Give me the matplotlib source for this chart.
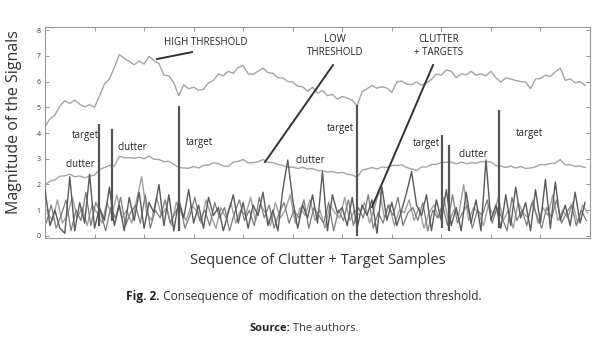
import numpy as np
import matplotlib.pyplot as plt

plt.rcParams['font.family'] = ['Open Sans', 'DejaVu Sans']

# ---- data --------------------------------------------------------------
STEP = 5
HIGH_THR = [4.25, 4.55, 4.7, 5.05, 5.25, 5.15, 5.28, 5.12, 5.02, 5.1,
            5.0, 5.45, 5.9, 6.1, 6.55, 7.05, 6.9, 6.78, 6.65, 6.8,
            6.68, 6.98, 6.82, 6.7, 6.25, 6.22, 5.95, 5.45, 5.88, 5.72,
            5.78, 5.66, 5.7, 5.95, 6.05, 6.3, 6.22, 6.4, 6.32, 6.55,
            6.62, 6.3, 6.28, 6.4, 6.52, 6.35, 6.32, 6.15, 6.14, 6.0,
            5.98, 5.82, 5.8, 5.62, 5.78, 5.55, 5.65, 5.45, 5.5, 5.32,
            5.42, 5.36, 5.28, 5.05, 5.6, 5.72, 5.85, 5.74, 5.8, 5.75,
            5.58, 5.98, 6.02, 5.9, 5.88, 5.98, 5.86, 5.94, 6.08, 6.3,
            6.25, 6.45, 6.4, 6.15, 6.3, 6.26, 6.4, 6.25, 6.3, 6.22,
            6.4, 6.15, 5.98, 6.14, 6.1, 6.04, 6.0, 5.98, 5.72, 6.1,
            6.12, 6.25, 6.2, 6.38, 6.52, 6.05, 6.1, 5.95, 6.0, 5.85]
LOW_THR = [2.0, 2.12, 2.18, 2.32, 2.34, 2.4, 2.3, 2.33, 2.26, 2.32,
           2.36, 2.58, 2.66, 2.74, 2.72, 3.1, 3.04, 3.04, 3.02, 3.06,
           3.0, 3.1, 2.98, 2.97, 2.88, 2.9, 2.78, 2.66, 2.64, 2.63,
           2.7, 2.64, 2.74, 2.76, 2.84, 2.81, 2.72, 2.7, 2.87, 2.9,
           2.97, 2.83, 2.85, 2.88, 2.97, 2.86, 2.85, 2.78, 2.74, 2.66,
           2.68, 2.62, 2.67, 2.6, 2.62, 2.54, 2.54, 2.48, 2.5, 2.45,
           2.47, 2.4, 2.37, 2.28, 2.56, 2.6, 2.66, 2.6, 2.68, 2.66,
           2.74, 2.74, 2.76, 2.66, 2.6, 2.54, 2.68, 2.68, 2.78, 2.78,
           2.86, 2.86, 2.87, 2.8, 2.87, 2.81, 2.84, 2.83, 2.89, 2.88,
           2.88, 2.73, 2.72, 2.66, 2.72, 2.64, 2.7, 2.62, 2.64, 2.68,
           2.78, 2.76, 2.82, 2.83, 2.97, 2.76, 2.77, 2.7, 2.72, 2.66]
CLUTTER_DARK = [1.8, 0.4, 1.0, 0.3, 0.1, 2.3, 0.2, 1.3, 0.5, 2.4,
                0.3, 1.1, 0.6, 1.9, 0.4, 1.2, 0.2, 1.5, 0.6, 1.7,
                0.3, 1.3, 0.9, 2.0, 0.4, 1.6, 0.2, 1.4, 0.7, 1.8,
                0.5, 1.2, 0.3, 1.5, 0.8, 1.1, 0.2, 0.9, 1.6, 0.5,
                1.3, 0.3, 1.2, 0.8, 1.7, 0.4, 1.0, 0.2, 1.8, 2.95,
                1.4, 0.3, 1.2, 0.7, 1.6, 0.5, 2.5, 0.2, 1.6, 0.9,
                1.1, 0.4, 1.5, 0.3, 1.2, 0.8, 1.4, 0.1, 1.9, 0.6,
                1.3, 0.4, 1.0, 1.7, 2.5, 1.2, 0.8, 1.6, 0.2, 1.4,
                0.6, 1.8, 0.4, 1.1, 0.2, 1.7, 0.5, 1.4, 0.2, 2.95,
                0.6, 1.2, 0.3, 1.6, 0.4, 1.9, 0.7, 1.3, 0.2, 1.8,
                0.5, 2.2, 0.3, 2.1, 0.6, 1.2, 0.4, 1.7, 0.5, 1.3]
CLUTTER_MID = [0.5, 1.2, 0.3, 0.8, 1.4, 0.2, 1.0, 0.6, 1.7, 0.4,
               1.3, 0.9, 0.2, 1.1, 0.7, 1.5, 0.4, 0.9, 1.2, 0.5,
               1.6, 0.3, 1.0, 0.7, 1.4, 0.5, 0.9, 1.2, 0.3, 0.8,
               1.5, 0.6, 1.0, 0.4, 1.3, 0.7, 1.1, 0.2, 0.9, 1.4,
               0.6, 1.0, 0.4, 1.5, 0.7, 1.2, 0.3, 0.9, 1.3, 0.5,
               1.0, 0.7, 1.4, 0.3, 1.1, 0.8, 0.5, 1.3, 0.2, 1.0,
               0.6, 1.4, 0.4, 1.1, 0.7, 1.6, 0.3, 0.9, 0.5, 1.2,
               0.8, 1.5, 0.4, 0.9, 1.1, 0.6, 1.3, 0.2, 1.0, 0.7,
               1.2, 0.4, 1.6, 0.5, 0.9, 1.2, 0.3, 1.0, 0.8, 1.4,
               0.5, 1.1, 0.7, 0.2, 1.5, 0.6, 1.0, 0.4, 1.3, 0.8,
               0.3, 1.1, 0.7, 1.4, 0.5, 0.9, 1.2, 0.4, 1.0, 0.6]
CLUTTER_LIGHT = [0.9, 0.6, 1.4, 0.5, 0.8, 1.5, 0.7, 1.1, 0.4, 1.2,
                 0.9, 0.5, 1.3, 0.8, 1.6, 0.7, 1.0, 0.5, 1.4, 2.3,
                 0.9, 0.6, 1.5, 0.8, 1.1, 0.4, 1.3, 0.9, 0.6, 1.2,
                 1.0, 0.5, 1.4, 0.8, 0.3, 1.1, 0.7, 1.3, 0.5, 1.0,
                 0.8, 1.5, 0.6, 1.2, 0.9, 0.4, 1.3, 0.7, 1.0, 1.6,
                 0.5, 1.1, 0.8, 1.4, 0.6, 1.0, 0.3, 1.2, 0.9, 0.7,
                 1.5, 0.6, 1.0, 0.8, 1.3, 0.5, 1.1, 1.8, 0.7, 1.2,
                 0.4, 1.0, 0.9, 1.4, 0.6, 1.1, 0.3, 0.9, 1.2, 0.7,
                 1.5, 0.5, 1.0, 0.8, 2.0, 0.6, 1.1, 0.9, 0.4, 1.2,
                 0.8, 1.5, 0.6, 1.0, 0.3, 1.3, 0.9, 0.7, 1.4, 0.5,
                 1.1, 0.8, 1.6, 0.6, 1.0, 0.7, 1.3, 0.5, 1.2, 0.9]
TARGET_X = [54, 68, 135, 315, 401, 408, 458]
TARGET_Y = [4.35, 4.15, 5.05, 5.1, 3.92, 3.53, 4.9]
TARGET_BASE = [0.4, 0.6, 0.2, 0.0, 0.3, 0.2, 0.3]

x_thr = np.arange(len(HIGH_THR)) * STEP
x_dark = np.arange(len(CLUTTER_DARK)) * STEP
x_mid = np.arange(len(CLUTTER_MID)) * STEP + STEP / 4
x_light = np.arange(len(CLUTTER_LIGHT)) * STEP + STEP / 2

# ---- figure -------------------------------------------------------------
fig = plt.figure(figsize=(6.08, 3.54), dpi=100)
ax = fig.add_axes([45 / 608, 1 - 238 / 354, 545 / 608, 211 / 354])

ax.plot(x_light, CLUTTER_LIGHT, color='#a0a0a0', lw=1.0, zorder=2)
ax.plot(x_mid, CLUTTER_MID, color='#7c7c7c', lw=0.9, zorder=2)
ax.plot(x_dark, CLUTTER_DARK, color='#5a5a5a', lw=1.0, zorder=3)
ax.vlines(TARGET_X, TARGET_BASE, TARGET_Y, color='#555555', lw=1.6, zorder=4)
ax.plot(x_thr, HIGH_THR, color='#a4a4a4', lw=1.0, zorder=2)
ax.plot(x_thr, LOW_THR, color='#a4a4a4', lw=1.0, zorder=2)

ax.set_xlim(0, 550)
ax.set_ylim(-0.08, 8.12)
ax.set_xticks(np.arange(50, 550, 50))
ax.set_xticklabels([])
ax.set_yticks(range(0, 9))
ax.tick_params(direction='in', length=3, width=0.6, color='#888888',
               top=True, right=True, labelsize=5, pad=3, labelcolor='#333333')
for sp in ax.spines.values():
    sp.set_color('#999999')
    sp.set_linewidth(0.8)

ax.set_ylabel('Magnitude of the Signals', fontsize=11.5, color='#333333')
ax.yaxis.set_label_coords(-0.042, 0.55)
ax.set_xlabel('Sequence of Clutter + Target Samples', fontsize=10.5,
              color='#333333', labelpad=8)

# annotations
def px(xp, yp):
    return (xp - 45) * 550 / 545, (236 - yp) / 25.75

ann = dict(fontsize=7, color='#222222', ha='center', va='center')
ax.text(*px(206, 42), 'HIGH THRESHOLD', **ann)
ax.text(*px(335, 46), 'LOW\nTHRESHOLD', linespacing=1.3, **ann)
ax.text(*px(439, 46), 'CLUTTER\n+ TARGETS', linespacing=1.3, **ann)
for xp, yp in [(85, 135), (199, 142), (340, 128), (426, 143), (529, 133)]:
    ax.text(*px(xp, yp), 'target', **ann)
for xp, yp in [(80, 165), (132, 147), (310, 161), (473, 155)]:
    ax.text(*px(xp, yp), 'clutter', **ann)

for (x0, y0), (x1, y1) in [((157, 59), (192, 52)), ((333, 65), (265, 162)),
                           ((433, 65), (372, 207))]:
    a, b = px(x0, y0)
    c, d = px(x1, y1)
    ax.plot([a, c], [b, d], color='#333333', lw=1.4, zorder=6)

# caption
fig.canvas.draw()
r = fig.canvas.get_renderer()
t1 = fig.text(0, 0, 'Fig. 2.', fontsize=8.6, fontweight='bold', color='#222222')
t2 = fig.text(0, 0, ' Consequence of  modification on the detection threshold.',
              fontsize=8.6, color='#333333')
w1 = t1.get_window_extent(r).width / 608
w2 = t2.get_window_extent(r).width / 608
x0 = 0.5 - (w1 + w2) / 2
t1.set_position((x0, 1 - 300 / 354))
t2.set_position((x0 + w1, 1 - 300 / 354))

s1 = fig.text(0, 0, 'Source:', fontsize=8, fontweight='bold', color='#222222')
s2 = fig.text(0, 0, ' The authors.', fontsize=8, color='#333333')
w1 = s1.get_window_extent(r).width / 608
w2 = s2.get_window_extent(r).width / 608
x0 = 0.5 - (w1 + w2) / 2
s1.set_position((x0, 1 - 331 / 354))
s2.set_position((x0 + w1, 1 - 331 / 354))

fig.savefig('out.png', dpi=100)
